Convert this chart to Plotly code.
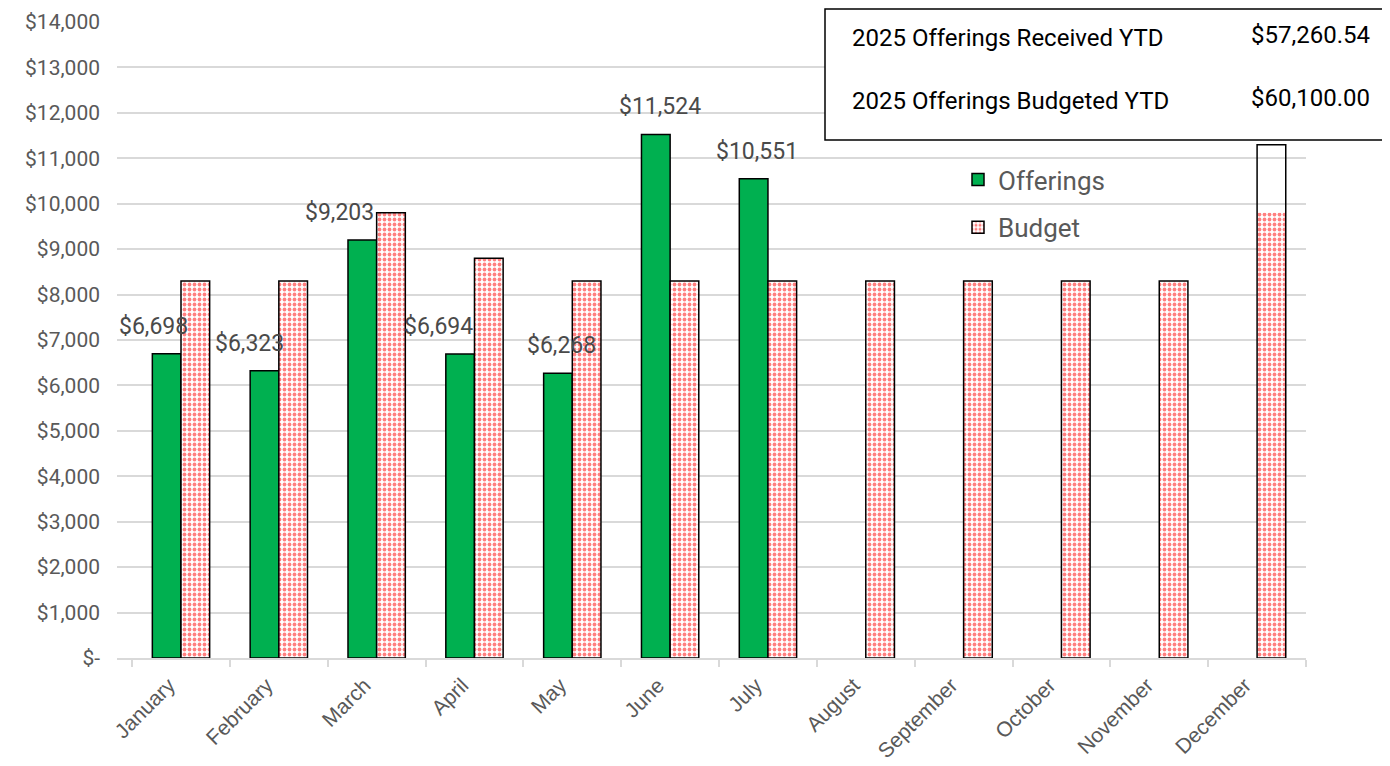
import plotly.graph_objects as go

months = ["January", "February", "March", "April", "May", "June", "July",
          "August", "September", "October", "November", "December"]
offerings = [6698, 6323, 9203, 6694, 6268, 11524, 10551]
budget = [8300, 8300, 9800, 8800, 8300, 8300, 8300, 8300, 8300, 8300, 8300, 9800]
december_outline = 11300
ytd_received = "$57,260.54"
ytd_budgeted = "$60,100.00"
label_dx = [-13, -15, -23, -21, 4, 4, 4]

ytick_vals = list(range(0, 14001, 1000))
ytick_text = ["$-"] + [f"${v:,}" for v in ytick_vals[1:]]

FONT = "Roboto, Liberation Sans, sans-serif"
XFONT = "Liberation Sans, Arial, sans-serif"
GRAY = "#595959"

fig = go.Figure()
fig.add_trace(go.Bar(
    name="Offerings", x=months[:len(offerings)], y=offerings,
    offsetgroup="o", legendgroup="o",
    marker=dict(color="#00B050", line=dict(color="black", width=1.5)),
    hoverinfo="x+y",
))
fig.add_trace(go.Bar(
    name="Budget", x=months, y=budget,
    offsetgroup="b", legendgroup="b",
    marker=dict(color="white",
                line=dict(color="black", width=[1.5] * 11 + [0]),
                pattern=dict(shape=".", fgcolor="#ff0000", bgcolor="#ffffff",
                             size=5, solidity=0.45)),
))
fig.add_trace(go.Bar(
    name="Budget outline", x=[months[-1]], y=[december_outline],
    offsetgroup="b", showlegend=False,
    marker=dict(color="rgba(0,0,0,0)", line=dict(color="black", width=1.5)),
    hoverinfo="skip",
))

for m, v, dx in zip(months, offerings, label_dx):
    fig.add_annotation(x=m, y=v, text=f"${v:,}", showarrow=False,
                       xref="x", yref="y", yanchor="bottom",
                       xshift=-14.5 + dx, yshift=12,
                       font=dict(family=FONT, size=23, color="#4a4a4a"))

# page offset of the plot (browser body margin is 8px)
def px_x(p):
    return (p - 117) / 1189

def px_y(p):
    return (658 - p) / 636

fig.add_shape(type="rect", xref="paper", yref="paper",
              x0=px_x(825), x1=px_x(1385), y0=px_y(140), y1=px_y(9),
              line=dict(color="black", width=1.5), fillcolor="white", layer="above")
for ty, lab, val in [(38, "2025 Offerings Received YTD", ytd_received),
                     (101, "2025 Offerings Budgeted YTD", ytd_budgeted)]:
    fig.add_annotation(x=px_x(850), y=px_y(ty), xref="paper", yref="paper",
                       text=lab, showarrow=False, xanchor="left", yanchor="middle",
                       font=dict(family=FONT, size=24, color="black"))
    fig.add_annotation(x=px_x(1372), y=px_y(ty - 3), xref="paper", yref="paper",
                       text=val, showarrow=False, xanchor="right", yanchor="middle",
                       font=dict(family=FONT, size=24, color="black"))

fig.update_layout(
    width=1382, height=758,
    margin=dict(l=109, r=84, t=14, b=108),
    paper_bgcolor="white", plot_bgcolor="white",
    barmode="group", bargap=0.414, bargroupgap=0,
    font=dict(family=FONT, color=GRAY),
    legend=dict(x=px_x(958), y=px_y(156), xanchor="left", yanchor="top",
                font=dict(family=FONT, size=26, color=GRAY),
                traceorder="grouped", tracegroupgap=11,
                bgcolor="rgba(0,0,0,0)"),
    showlegend=True,
)
fig.update_yaxes(range=[0, 14000], tickvals=ytick_vals, ticktext=ytick_text,
                 showgrid=True, gridcolor="#d9d9d9", gridwidth=1.5,
                 zeroline=False, showline=False, ticks="",
                 ticklabelstandoff=16, automargin=False,
                 tickfont=dict(family=FONT, size=21, color=GRAY))
fig.update_xaxes(showline=True, linecolor="#d9d9d9", linewidth=1.5,
                 ticks="outside", tickson="boundaries", ticklen=7,
                 tickcolor="#d9d9d9", tickwidth=1.5, automargin=False,
                 ticklabelstandoff=5, ticklabelshift=-12,
                 tickangle=-45, tickfont=dict(family=XFONT, size=21, color=GRAY))

fig.write_html("out.html")
